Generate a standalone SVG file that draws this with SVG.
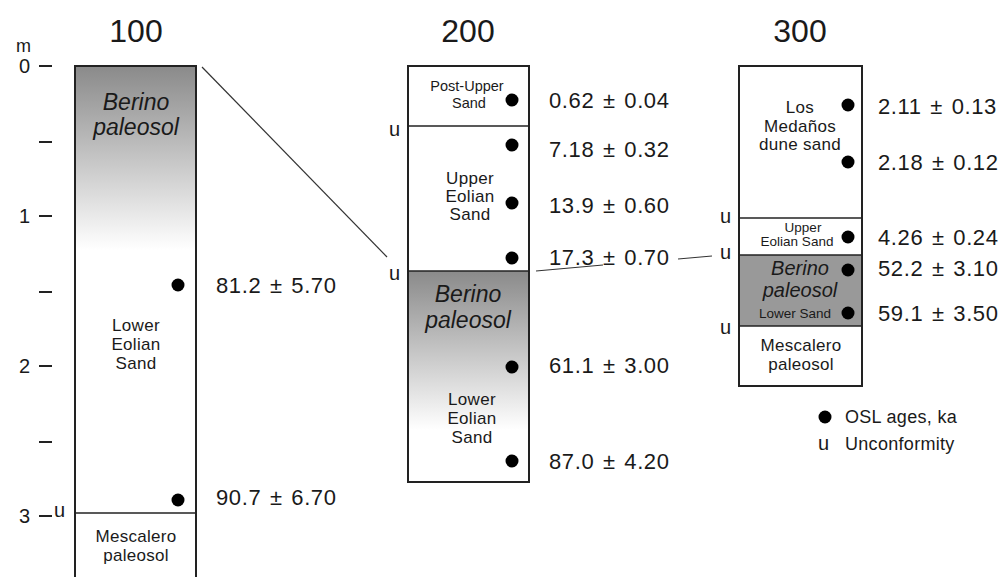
<svg xmlns="http://www.w3.org/2000/svg" width="1005" height="577" viewBox="0 0 1005 577">
<defs>
<linearGradient id="g100" x1="0" y1="66" x2="0" y2="250" gradientUnits="userSpaceOnUse">
<stop offset="0" stop-color="#8a8a8a"/><stop offset="1" stop-color="#ffffff"/>
</linearGradient>
<linearGradient id="g200" x1="0" y1="271" x2="0" y2="430" gradientUnits="userSpaceOnUse">
<stop offset="0" stop-color="#8a8a8a"/><stop offset="1" stop-color="#ffffff"/>
</linearGradient>
<style>
text{font-family:"Liberation Sans",Arial,sans-serif;fill:#1a1a1a}
.t{font-size:32px;text-anchor:middle}
.ax{font-size:20px}
.age{font-size:22px;letter-spacing:0.6px;word-spacing:2px}
.ly{font-size:17px;text-anchor:middle;letter-spacing:0.3px}
.sm{font-size:13.5px;text-anchor:middle}
.it{font-size:23px;font-style:italic;text-anchor:middle}
.it3{font-size:20px;font-style:italic;text-anchor:middle}
.u{font-size:20px}
.lg{font-size:18px;letter-spacing:0.3px}
.box{fill:none;stroke:#222;stroke-width:2}
.div{stroke:#222;stroke-width:1.5}
.tick{stroke:#222;stroke-width:2}
.dot{fill:#000}
.con{stroke:#333;stroke-width:1.2;fill:none}
</style>
</defs>

<g id="axis">
<text class="ax" x="16" y="52" style="font-size:18px">m</text>
<text class="ax" x="19" y="73">0</text>
<text class="ax" x="19" y="223">1</text>
<text class="ax" x="19" y="373">2</text>
<text class="ax" x="19" y="523">3</text>
<line class="tick" x1="39" y1="66" x2="52" y2="66"/>
<line class="tick" x1="39" y1="142" x2="52" y2="142"/>
<line class="tick" x1="39" y1="216" x2="52" y2="216"/>
<line class="tick" x1="39" y1="292" x2="52" y2="292"/>
<line class="tick" x1="39" y1="366" x2="52" y2="366"/>
<line class="tick" x1="39" y1="442" x2="52" y2="442"/>
<line class="tick" x1="39" y1="516" x2="52" y2="516"/>
</g>

<g id="col100">
<text class="t" x="136" y="42">100</text>
<rect x="75" y="66" width="121" height="520" fill="url(#g100)" stroke="#222" stroke-width="2"/>
<line class="div" x1="75" y1="513" x2="196" y2="513"/>
<text class="it" x="136" y="110">Berino</text>
<text class="it" x="136" y="135">paleosol</text>
<text class="ly" x="136" y="331">Lower</text>
<text class="ly" x="136" y="350">Eolian</text>
<text class="ly" x="136" y="369">Sand</text>
<text class="ly" x="136" y="542">Mescalero</text>
<text class="ly" x="136" y="561">paleosol</text>
<text class="u" x="54" y="517">u</text>
<circle class="dot" cx="178" cy="285" r="6.5"/>
<circle class="dot" cx="178" cy="500" r="6.5"/>
<text class="age" x="216" y="293">81.2 ± 5.70</text>
<text class="age" x="216" y="505">90.7 ± 6.70</text>
</g>

<g id="col200">
<text class="t" x="468" y="42">200</text>
<rect x="408" y="271" width="121" height="211" fill="url(#g200)"/>
<rect class="box" x="408" y="66" width="121" height="416"/>
<line class="div" x1="408" y1="126" x2="529" y2="126"/>
<line class="div" x1="408" y1="271" x2="529" y2="271"/>
<text class="sm" x="467" y="91" style="font-size:14.5px">Post-Upper</text>
<text class="sm" x="469" y="108" style="font-size:14.5px">Sand</text>
<text class="ly" x="470" y="184">Upper</text>
<text class="ly" x="470" y="202">Eolian</text>
<text class="ly" x="470" y="220">Sand</text>
<text class="it" x="468" y="302">Berino</text>
<text class="it" x="468" y="328">paleosol</text>
<text class="ly" x="472" y="405">Lower</text>
<text class="ly" x="472" y="424">Eolian</text>
<text class="ly" x="472" y="443">Sand</text>
<text class="u" x="389" y="136">u</text>
<text class="u" x="389" y="280">u</text>
<circle class="dot" cx="512" cy="100" r="6.5"/>
<circle class="dot" cx="512" cy="145" r="6.5"/>
<circle class="dot" cx="512" cy="203" r="6.5"/>
<circle class="dot" cx="512" cy="258" r="6.5"/>
<circle class="dot" cx="512" cy="367" r="6.5"/>
<circle class="dot" cx="512" cy="461" r="6.5"/>
<text class="age" x="549" y="108">0.62 ± 0.04</text>
<text class="age" x="549" y="157">7.18 ± 0.32</text>
<text class="age" x="549" y="213">13.9 ± 0.60</text>
<text class="age" x="549" y="265">17.3 ± 0.70</text>
<text class="age" x="549" y="373">61.1 ± 3.00</text>
<text class="age" x="549" y="469">87.0 ± 4.20</text>
</g>

<g id="col300">
<text class="t" x="800" y="42">300</text>
<rect x="739" y="255" width="123" height="71" fill="#999999"/>
<rect class="box" x="739" y="66" width="123" height="320"/>
<line class="div" x1="739" y1="218" x2="862" y2="218"/>
<line class="div" x1="739" y1="255" x2="862" y2="255"/>
<line class="div" x1="739" y1="326" x2="862" y2="326"/>
<text class="ly" x="800" y="113">Los</text>
<text class="ly" x="800" y="132">Medaños</text>
<text class="ly" x="800" y="150">dune sand</text>
<text class="sm" x="803" y="232">Upper</text>
<text class="sm" x="797" y="246">Eolian Sand</text>
<text class="it3" x="800" y="275">Berino</text>
<text class="it3" x="800" y="297">paleosol</text>
<text class="sm" x="795" y="318">Lower Sand</text>
<text class="ly" x="801" y="351">Mescalero</text>
<text class="ly" x="801" y="370">paleosol</text>
<text class="u" x="720" y="223">u</text>
<text class="u" x="720" y="259">u</text>
<text class="u" x="720" y="334">u</text>
<circle class="dot" cx="848" cy="105" r="6.5"/>
<circle class="dot" cx="848" cy="162" r="6.5"/>
<circle class="dot" cx="848" cy="237" r="6.5"/>
<circle class="dot" cx="848" cy="270" r="6.5"/>
<circle class="dot" cx="848" cy="313" r="6.5"/>
<text class="age" x="878" y="114">2.11 ± 0.13</text>
<text class="age" x="878" y="170">2.18 ± 0.12</text>
<text class="age" x="878" y="245">4.26 ± 0.24</text>
<text class="age" x="878" y="276">52.2 ± 3.10</text>
<text class="age" x="878" y="321">59.1 ± 3.50</text>
</g>

<g id="legend">
<circle class="dot" cx="825" cy="417" r="6.5"/>
<text class="lg" x="845" y="423">OSL ages, ka</text>
<text class="u" x="818" y="450">u</text>
<text class="lg" x="845" y="450">Unconformity</text>
</g>

<g id="connectors">
<line class="con" x1="202" y1="67" x2="387" y2="257"/>
<line class="con" x1="536" y1="271" x2="603" y2="265"/>
<line class="con" x1="678" y1="259" x2="712" y2="256"/>
</g>
</svg>
